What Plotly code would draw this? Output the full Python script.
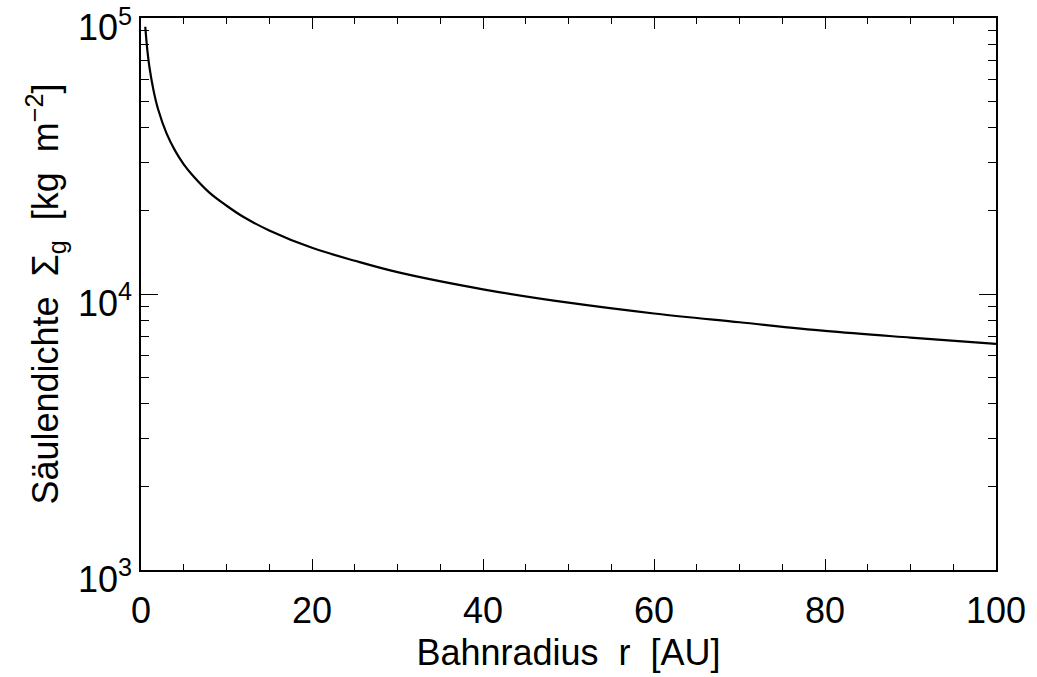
import plotly.graph_objects as go

# Orbital radius r [AU] and gas surface density Sigma_g [kg m^-2]
r_au = [0.5, 0.75, 1, 1.5, 2, 3, 4, 5, 6, 8, 10, 12, 15, 20, 25, 30, 40, 50, 60, 70, 80, 90, 100]
sigma_g = [93000, 76000, 66000, 54000, 46700, 38100, 33000, 29500, 27000, 23300, 20900,
           19000, 17000, 14700, 13200, 12000, 10400, 9300, 8500, 7900, 7350, 6950, 6600]

x_ticks = [0, 20, 40, 60, 80, 100]
y_tickvals = [1e3, 1e4, 1e5]
y_ticktext = ["10<sup>3</sup>", "10<sup>4</sup>", "10<sup>5</sup>"]

FONT = "Liberation Sans, DejaVu Sans, sans-serif"

fig = go.Figure()
fig.add_trace(go.Scatter(x=r_au, y=sigma_g, mode="lines",
                         line=dict(color="black", width=2.2, shape="spline"),
                         showlegend=False))

fig.update_layout(
    width=1037, height=677,
    margin=dict(l=141, r=41, t=18, b=107),
    paper_bgcolor="white", plot_bgcolor="white",
    font=dict(family=FONT, size=36, color="black"),
)

fig.update_xaxes(
    range=[0, 100], tickvals=x_ticks, ticktext=[str(v) for v in x_ticks],
    ticks="inside", ticklen=11, tickwidth=1.2, tickcolor="black",
    showline=True, linecolor="black", linewidth=1.5, mirror="allticks",
    showgrid=False, zeroline=False, automargin=False,
    minor=dict(dtick=5, ticks="inside", ticklen=6, tickwidth=1.2, tickcolor="black", showgrid=False),
    tickfont=dict(size=36), ticklabelstandoff=8, ticklabeloverflow="allow",
    title=dict(text="Bahnradius  r  [AU]", font=dict(size=36), standoff=10),
)

fig.update_yaxes(
    type="log", range=[2.9999, 5.0001], tickvals=y_tickvals, ticktext=y_ticktext,
    ticks="inside", ticklen=17, tickwidth=1.2, tickcolor="black",
    showline=True, linecolor="black", linewidth=1.5, mirror="allticks",
    showgrid=False, zeroline=False, automargin=False,
    minor=dict(dtick="D1", ticks="inside", ticklen=8, tickwidth=1.2, tickcolor="black", showgrid=False),
    tickfont=dict(size=36), ticklabeloverflow="allow", ticklabelshift=9,
    title=dict(text="Säulendichte  Σ<sub>g</sub>  [kg  m<sup>−2</sup>]", font=dict(size=36), standoff=8),
)

fig.write_html("out.html")
